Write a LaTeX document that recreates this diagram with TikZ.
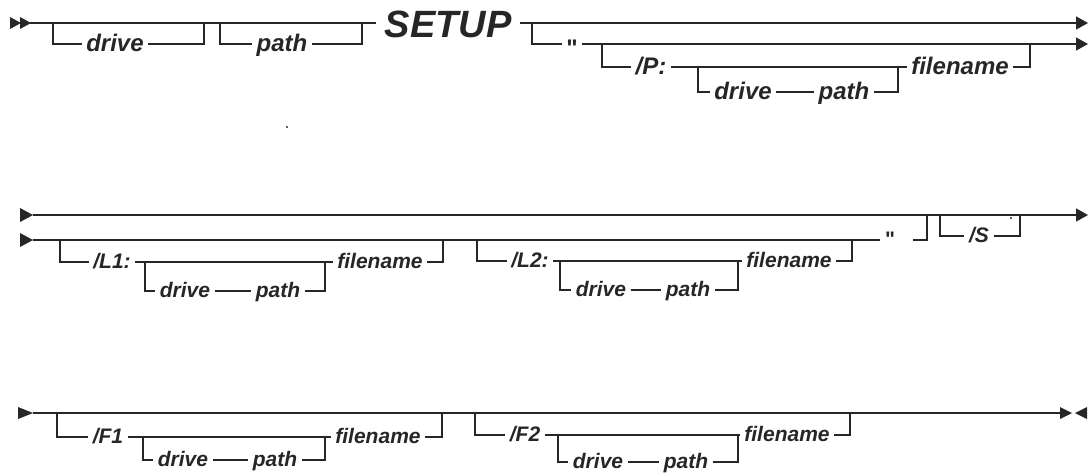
\documentclass[tikz,border=0pt]{standalone}
\usepackage{fontspec}
\setmainfont{Liberation Sans}
\newfontfamily\quotefont[Ligatures=NoCommon]{Liberation Sans}
\usetikzlibrary{arrows.meta}
\begin{document}
\begin{tikzpicture}[x=1pt,y=-1pt,line width=1.5pt,color=black!85,
  lbl/.style={inner xsep=4pt,inner ysep=0pt,text height=15pt,text depth=2pt,
    font=\fontsize{21}{21}\selectfont\bfseries\itshape},
  lbla/.style={inner xsep=4pt,inner ysep=0pt,text height=17.5pt,text depth=2.5pt,
    font=\fontsize{24}{24}\selectfont\bfseries\itshape},
  setupstyle/.style={inner xsep=8pt,inner ysep=0pt,text height=27pt,text depth=0pt,
    font=\fontsize{38}{38}\selectfont\bfseries\itshape},
  endarr/.style={-{Triangle[length=12pt,width=13pt]}},
  tipfill/.style={fill=black!85}]
\useasboundingbox (0,0) rectangle (1089,475);

% ---------------- Row 1 ----------------
\fill[tipfill] (10,17) -- (21,23) -- (10,29) -- cycle;
\fill[tipfill] (20,17) -- (31,23) -- (20,29) -- cycle;
\coordinate (s1) at (30,23);
\node[setupstyle] (setup) at (448,24) {SETUP};
\draw (s1) -- (setup.west |- s1);
\node[lbla] (d1) at (115,44) {drive};
\draw (53,23) |- (d1.west);
\draw (d1.east) -| (204,23);
\node[lbla] (p1) at (282,44) {path};
\draw (220,23) |- (p1.west);
\draw (p1.east) -| (362,23);
\coordinate (e1) at (1088,23);
\draw[endarr] (setup.east |- e1) -- (e1);
\node[lbla] (q1) at (572,44) {\raisebox{-5pt}{\quotefont\upshape\char"22}};
\draw (532,23) |- (q1.west);
\coordinate (e2) at (1088,44);
\draw[endarr] (q1.east) -- (e2);
\node[lbla] (P) at (651,67) {/P:};
\draw (602,44) |- (P.west);
\node[lbla] (fn1) at (960,67) {filename};
\draw (P.east) -- (fn1.west);
\node[lbla] (dP) at (743,92) {drive};
\node[lbla] (pP) at (844,92) {path};
\draw (698,67) |- (dP.west);
\draw (dP.east) -- (pP.west);
\draw (pP.east) -| (898,67);
\draw (fn1.east) -| (1030,44);
\fill (287,127) circle (1.2);

% ---------------- Row 2 ----------------
\fill[tipfill] (20,208) -- (33,215) -- (20,222) -- cycle;
\fill[tipfill] (20,233) -- (33,240) -- (20,247) -- cycle;
\coordinate (s2a) at (33,215);
\coordinate (e3) at (1088,215);
\draw[endarr] (s2a) -- (e3);
\coordinate (s2b) at (33,240);
\node[lbl] (q2) at (890,240) {\quotefont\upshape\char"22};
\draw (s2b) -- (q2.west);
\coordinate (q2r) at (913,240);
\draw (q2r) -| (927,215);
\node[lbl] (L1) at (112,262) {/L1:};
\draw (60,240) |- (L1.west);
\node[lbl] (fnL1) at (380,262) {filename};
\draw (L1.east) -- (fnL1.west);
\node[lbl] (dL1) at (185,291) {drive};
\node[lbl] (pL1) at (278,291) {path};
\draw (145,262) |- (dL1.west);
\draw (dL1.east) -- (pL1.west);
\draw (pL1.east) -| (325,262);
\draw (fnL1.east) -| (443,240);
\node[lbl] (L2) at (530,261) {/L2:};
\draw (477,240) |- (L2.west);
\node[lbl] (fnL2) at (789,261) {filename};
\draw (L2.east) -- (fnL2.west);
\node[lbl] (dL2) at (601,290) {drive};
\node[lbl] (pL2) at (688,290) {path};
\draw (560,261) |- (dL2.west);
\draw (dL2.east) -- (pL2.west);
\draw (pL2.east) -| (738,261);
\draw (fnL2.east) -| (852,240);
\node[lbl] (S) at (979,236) {/S};
\draw (940,215) |- (S.west);
\draw (S.east) -| (1020,215);
\fill (1011,218) circle (1.2);

% ---------------- Row 3 ----------------
\fill[tipfill] (18,407) -- (33,413) -- (18,419) -- cycle;
\coordinate (s3) at (33,413);
\coordinate (e4) at (1060,413);
\draw (s3) -- (e4);
\fill[tipfill] (1060,407) -- (1072,413) -- (1060,419) -- cycle;
\fill[tipfill] (1087,407) -- (1075,413) -- (1087,419) -- cycle;
\node[lbl] (F1) at (108,437) {/F1};
\draw (57,413) |- (F1.west);
\node[lbl] (fnF1) at (378,437) {filename};
\draw (F1.east) -- (fnF1.west);
\node[lbl] (dF1) at (183,460) {drive};
\node[lbl] (pF1) at (275,460) {path};
\draw (143,437) |- (dF1.west);
\draw (dF1.east) -- (pF1.west);
\draw (pF1.east) -| (325,437);
\draw (fnF1.east) -| (442,413);
\node[lbl] (F2) at (525,435) {/F2};
\draw (475,413) |- (F2.west);
\node[lbl] (fnF2) at (787,435) {filename};
\draw (F2.east) -- (fnF2.west);
\node[lbl] (dF2) at (598,462) {drive};
\node[lbl] (pF2) at (686,462) {path};
\draw (558,435) |- (dF2.west);
\draw (dF2.east) -- (pF2.west);
\draw (pF2.east) -| (738,435);
\draw (fnF2.east) -| (850,413);
\end{tikzpicture}
\end{document}
